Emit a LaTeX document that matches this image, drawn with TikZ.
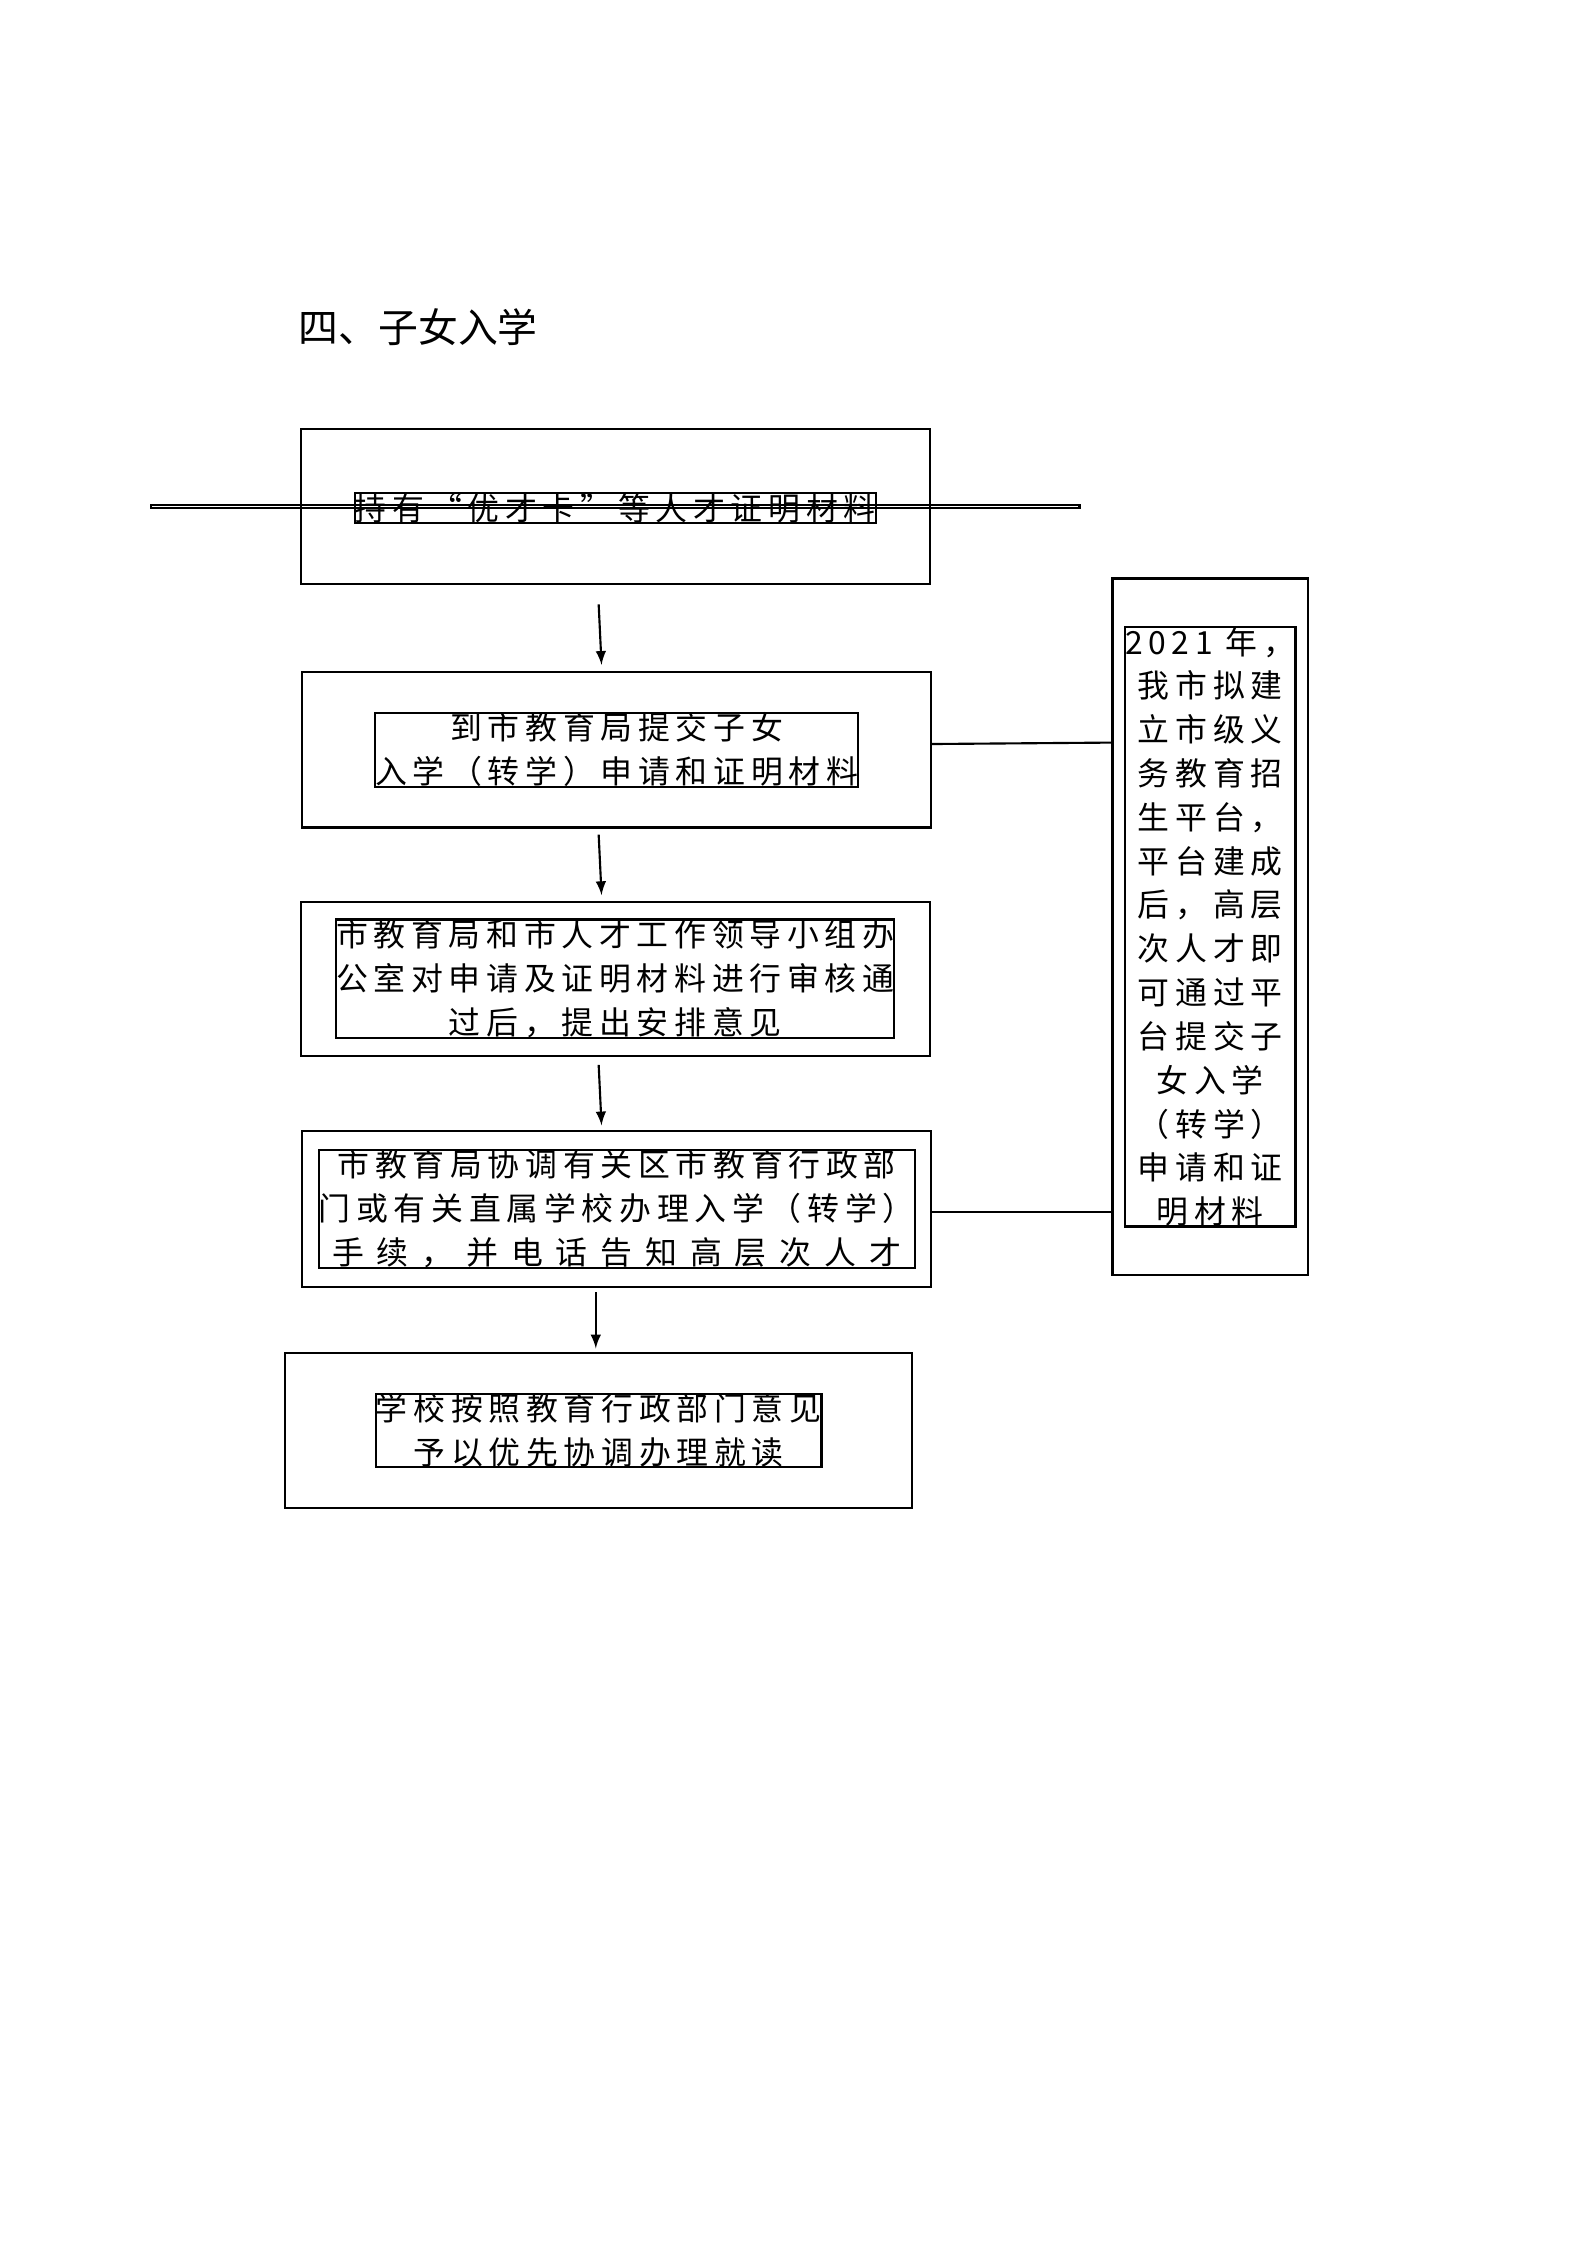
\documentclass[tikz,border=0pt]{standalone}
\usepackage{fontspec}
\setmainfont{Liberation Serif}
\newfontfamily\cjk[LetterSpace=18]{Noto Sans CJK SC}
\newfontfamily\cjktitle{Noto Sans CJK SC}
\tikzset{
  flowbox/.style={draw, thick, inner sep=0pt, align=center, font=\cjk\fontsize{12}{16.5}\selectfont},
  flowarrow/.style={-latex, thick},
}
\begin{document}
\begin{tikzpicture}[x=0.01904cm, y=-0.01904cm]
\useasboundingbox (0,0) rectangle (1103,1560);
\node[anchor=west, font=\cjktitle\fontsize{15}{18}\selectfont] (title) at (201,227) {四、子女入学};
\node[flowbox, minimum width=437\pgflinewidth] (card) at (427.5,352) {};
\draw[thick] (209,298) rectangle (646,406);
\node[flowbox] (cardtxt) at (427.5,353) {持有“优才卡”等人才证明材料};
\draw[thick] (210,467) rectangle (647,575);
\node[flowbox] (apply) at (428.5,521) {到市教育局提交子女\\入学（转学）申请和证明材料};
\draw[thick] (209,627) rectangle (646,734);
\node[flowbox] (review) at (427.5,680) {市教育局和市人才工作领导小组办\\公室对申请及证明材料进行审核通\\过后，提出安排意见};
\draw[thick] (210,786) rectangle (647,894);
\node[flowbox] (handle) at (428.5,840) {市教育局协调有关区市教育行政部\\门或有关直属学校办理入学（转学）\\手 续 ， 并 电 话 告 知 高 层 次 人 才};
\draw[thick] (198,940) rectangle (634,1048);
\node[flowbox] (school) at (416,994) {学校按照教育行政部门意见\\予以优先协调办理就读};
\draw[thick] (773,402) rectangle (909,886);
\node[flowbox] (plat) at (841,644) {2021 年，\\我市拟建\\立市级义\\务教育招\\生平台，\\平台建成\\后，高层\\次人才即\\可通过平\\台提交子\\女入学\\（转学）\\申请和证\\明材料};
\coordinate (a1) at (416,420); \coordinate (b1) at (418,462);
\coordinate (a2) at (416,580); \coordinate (b2) at (418,622);
\coordinate (a3) at (416,740); \coordinate (b3) at (418,782);
\coordinate (a4) at (414,898); \coordinate (b4) at (414,937);
\foreach \i in {1,...,4} \draw[flowarrow] (a\i) -- (b\i);
\coordinate (l1) at (647,517); \coordinate (r1) at (773,516);
\coordinate (l2) at (647,842); \coordinate (r2) at (773,842);
\draw[thick] (l1) -- (r1);
\draw[thick] (l2) -- (r2);
\end{tikzpicture}
\end{document}
